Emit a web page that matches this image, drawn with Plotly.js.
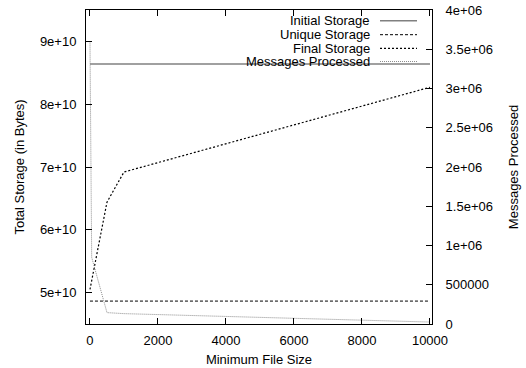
<!DOCTYPE html>
<html><head><meta charset="utf-8">
<script src="https://cdn.plot.ly/plotly-3.0.1.min.js"></script>
<style>html,body{margin:0;padding:0;background:#fff}</style>
</head><body><div id="chart" style="width:526px;height:368px"></div>
<script>
const seriesNames = ["Initial Storage", "Unique Storage", "Final Storage", "Messages Processed"];
const initialX = [0, 10000];
const initialStorage = [8.64e10, 8.64e10];
const uniqueX = [0, 10000];
const uniqueStorage = [4.865e10, 4.865e10];
const finalX = [0, 500, 1000, 10000];
const finalStorage = [5.05e10, 6.44e10, 6.92e10, 8.27e10];
const msgX = [0, 50, 500, 1000, 10000];
const messagesProcessed = [3.6e6, 0.85e6, 0.145e6, 0.132e6, 0.025e6];
const xTicks = [0, 2000, 4000, 6000, 8000, 10000];
const yTickVals = [5e10, 6e10, 7e10, 8e10, 9e10];
const yTickText = ["5e+10", "6e+10", "7e+10", "8e+10", "9e+10"];
const y2TickVals = [0, 5e5, 1e6, 1.5e6, 2e6, 2.5e6, 3e6, 3.5e6, 4e6];
const y2TickText = ["0", "500000", "1e+06", "1.5e+06", "2e+06", "2.5e+06", "3e+06", "3.5e+06", "4e+06"];

const styles = [
  {color: "#808080", width: 1.6, dash: "solid"},
  {color: "#000000", width: 1, dash: "3px,2px"},
  {color: "#000000", width: 1.2, dash: "2px,2px"},
  {color: "#8c8c8c", width: 1, dash: "1px,1px"}
];

const traces = [
  {x: initialX, y: initialStorage, name: seriesNames[0], yaxis: "y"},
  {x: uniqueX, y: uniqueStorage, name: seriesNames[1], yaxis: "y"},
  {x: finalX, y: finalStorage, name: seriesNames[2], yaxis: "y"},
  {x: msgX, y: messagesProcessed, name: seriesNames[3], yaxis: "y2"}
].map((t, i) => Object.assign(t, {type: "scatter", mode: "lines", line: styles[i], showlegend: false, hoverinfo: "skip"}));

const L = 86, R = 432, T = 10, B = 324;
const pw = R - L, ph = B - T;
const legendRows = [20.7, 34.7, 48.3, 61.5];
const annotations = [], shapes = [];
seriesNames.forEach((n, i) => {
  const yp = (B - legendRows[i]) / ph;
  annotations.push({xref: "paper", yref: "paper", x: (372 - L) / pw, y: yp, xanchor: "right", yanchor: "middle",
    text: n, showarrow: false, font: {size: 13, color: "#000"}});
  shapes.push({type: "line", xref: "paper", yref: "paper", x0: (380 - L) / pw, x1: (417 - L) / pw, y0: yp, y1: yp,
    line: {color: styles[i].color, width: styles[i].width, dash: styles[i].dash}});
});

const axFont = {family: "Liberation Sans, Arial, sans-serif", size: 13, color: "#000"};
const layout = {
  width: 526, height: 368,
  margin: {l: L, r: 526 - R, t: T, b: 368 - B, pad: 0},
  paper_bgcolor: "#fff", plot_bgcolor: "#fff",
  font: axFont,
  showlegend: false,
  xaxis: {range: [-117, 10059], tickvals: xTicks, ticktext: xTicks.map(String), ticks: "inside", ticklen: 6,
    tickcolor: "#000", showline: true, linecolor: "#000", linewidth: 1, mirror: "ticks", showgrid: false, zeroline: false,
    title: {text: "Minimum File Size", font: axFont, standoff: 8}, automargin: false, ticklabelstandoff: 4},
  yaxis: {range: [4.5e10, 9.5e10], tickvals: yTickVals, ticktext: yTickText, ticks: "inside", ticklen: 6,
    tickcolor: "#000", showline: true, linecolor: "#000", linewidth: 1, mirror: false, showgrid: false, zeroline: false,
    title: {text: "Total Storage (in Bytes)", font: axFont, standoff: 12}, automargin: false, ticklabelstandoff: 6},
  yaxis2: {range: [0, 4e6], overlaying: "y", side: "right", tickvals: y2TickVals, ticktext: y2TickText, ticks: "inside", ticklen: 6,
    tickcolor: "#000", showline: true, linecolor: "#000", linewidth: 1, showgrid: false, zeroline: false,
    title: {text: "Messages Processed", font: axFont, standoff: 16}, automargin: false, ticklabelstandoff: 10},
  annotations: annotations,
  shapes: shapes
};
Plotly.newPlot("chart", traces, layout, {staticPlot: true, displayModeBar: false});
</script>
</body></html>
